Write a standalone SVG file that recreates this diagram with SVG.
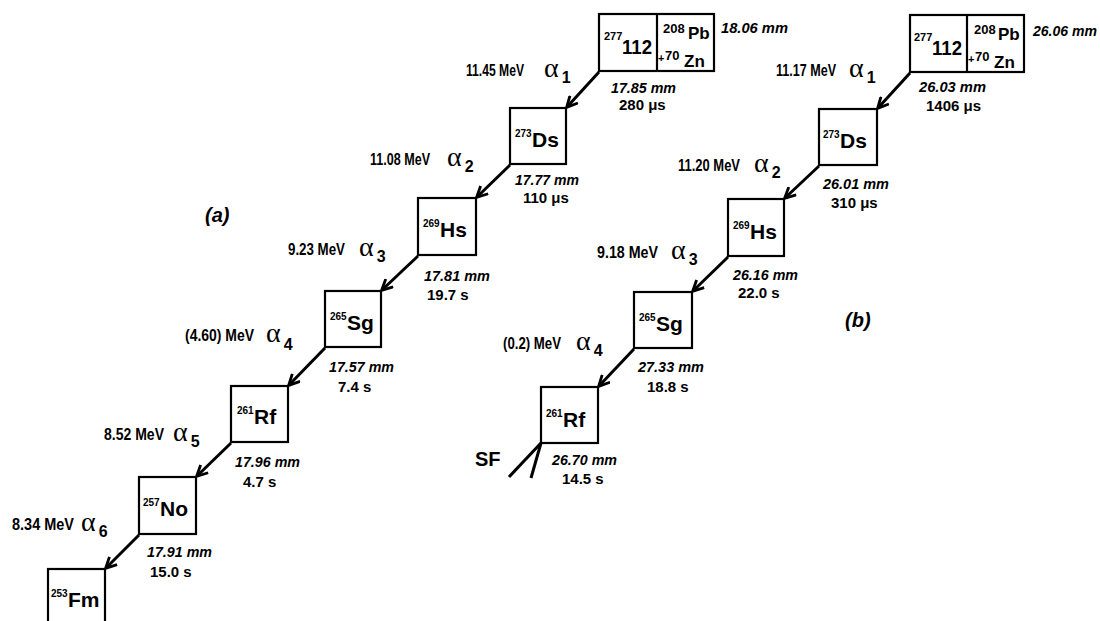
<svg xmlns="http://www.w3.org/2000/svg" width="1100" height="621" viewBox="0 0 1100 621">
<style>
.box{fill:#fff;stroke:#000;stroke-width:2.2}
.t{font-family:"Liberation Sans",Arial,sans-serif;font-weight:bold;fill:#000}
.e{font-size:17px}
.mm{font-size:15px;font-style:italic}
.tm{font-size:15px}
.al{font-family:"Liberation Serif","Times New Roman",serif;font-size:28px;fill:#000}
.sb{font-family:"Liberation Sans",Arial,sans-serif;font-weight:bold;font-size:16px}
.nu{font-size:21px}
.sp{font-size:10px}
.lab{font-size:20px;font-style:italic}
.arr{stroke:#000;stroke-width:3;fill:none;marker-end:url(#ah)}
.sf{stroke:#000;stroke-width:3;fill:none}
</style>
<defs>
<marker id="ah" viewBox="0 0 12 12" refX="10.5" refY="6" markerWidth="13" markerHeight="13" markerUnits="userSpaceOnUse" orient="auto">
<path d="M1,1 L11,6 L1,11" fill="none" stroke="#000" stroke-width="2.6"/>
</marker>
</defs>
<rect width="1100" height="621" fill="#fff"/>

<g id="connectors">
<line class="arr" x1="599" y1="72" x2="567" y2="107"/>
<line class="arr" x1="510" y1="165" x2="477" y2="197"/>
<line class="arr" x1="418" y1="256" x2="382" y2="290"/>
<line class="arr" x1="325" y1="348" x2="289" y2="385"/>
<line class="arr" x1="231" y1="443" x2="197" y2="476"/>
<line class="arr" x1="139" y1="535" x2="106" y2="568"/>
<line class="arr" x1="910" y1="73" x2="878" y2="108"/>
<line class="arr" x1="819" y1="166" x2="785" y2="198"/>
<line class="arr" x1="728" y1="257" x2="693" y2="291"/>
<line class="arr" x1="634" y1="349" x2="599" y2="386"/>
<line class="sf" x1="541" y1="443" x2="509" y2="477"/>
<line class="sf" x1="541" y1="443" x2="531" y2="478"/>
</g>

<!-- chain (a) -->
<g id="a-112">
<rect class="box" x="599" y="14" width="115" height="57"/>
<line x1="657" y1="14" x2="657" y2="71" stroke="#000" stroke-width="2.2"/>
<text class="t" x="604" y="40" font-size="11">277</text>
<text class="t nu" x="622" y="54" textLength="30" lengthAdjust="spacingAndGlyphs">112</text>
<text class="t" x="663" y="33" font-size="13">208</text>
<text class="t" x="688" y="39" font-size="17">Pb</text>
<text class="t" x="658" y="62" font-size="11">+</text>
<text class="t" x="665" y="60" font-size="13">70</text>
<text class="t" x="684" y="67" font-size="17">Zn</text>
</g>
<g id="a-Ds">
<rect class="box" x="510" y="108" width="56" height="56"/>
<text class="t sp" x="515" y="137">273</text>
<text class="t nu" x="532" y="147">Ds</text>
</g>
<g id="a-Hs">
<rect class="box" x="418" y="198" width="58" height="57"/>
<text class="t sp" x="423" y="227">269</text>
<text class="t nu" x="440" y="237">Hs</text>
</g>
<g id="a-Sg">
<rect class="box" x="325" y="291" width="56" height="56"/>
<text class="t sp" x="330" y="320">265</text>
<text class="t nu" x="347" y="330">Sg</text>
</g>
<g id="a-Rf">
<rect class="box" x="231" y="386" width="57" height="56"/>
<text class="t sp" x="237" y="414">261</text>
<text class="t nu" x="254" y="424">Rf</text>
</g>
<g id="a-No">
<rect class="box" x="139" y="477" width="57" height="57"/>
<text class="t sp" x="143" y="506">257</text>
<text class="t nu" x="160" y="516">No</text>
</g>
<g id="a-Fm">
<rect class="box" x="48" y="569" width="57" height="62"/>
<text class="t sp" x="51" y="597">253</text>
<text class="t nu" x="68" y="607">Fm</text>
</g>

<g id="a-labels">
<text class="t mm" x="721" y="33" textLength="67" lengthAdjust="spacingAndGlyphs">18.06 mm</text>
<text class="t e" x="466" y="76" textLength="58" lengthAdjust="spacingAndGlyphs">11.45 MeV</text>
<text class="al" x="544" y="77">α<tspan class="sb" dx="3" dy="6">1</tspan></text>
<text class="t mm" x="611" y="93" textLength="65" lengthAdjust="spacingAndGlyphs">17.85 mm</text>
<text class="t tm" x="619" y="110">280 μs</text>

<text class="t e" x="370" y="165" textLength="60" lengthAdjust="spacingAndGlyphs">11.08 MeV</text>
<text class="al" x="447" y="166">α<tspan class="sb" dx="3" dy="6">2</tspan></text>
<text class="t mm" x="515" y="185" textLength="64" lengthAdjust="spacingAndGlyphs">17.77 mm</text>
<text class="t tm" x="523" y="203">110 μs</text>

<text class="t lab" x="205" y="222">(a)</text>

<text class="t e" x="288" y="255" textLength="57" lengthAdjust="spacingAndGlyphs">9.23 MeV</text>
<text class="al" x="359" y="256">α<tspan class="sb" dx="3" dy="6">3</tspan></text>
<text class="t mm" x="424" y="281" textLength="66" lengthAdjust="spacingAndGlyphs">17.81 mm</text>
<text class="t tm" x="427" y="300">19.7 s</text>

<text class="t e" x="185" y="341" textLength="69" lengthAdjust="spacingAndGlyphs">(4.60) MeV</text>
<text class="al" x="266" y="342">α<tspan class="sb" dx="3" dy="8">4</tspan></text>
<text class="t mm" x="329" y="372" textLength="65" lengthAdjust="spacingAndGlyphs">17.57 mm</text>
<text class="t tm" x="338" y="392">7.4 s</text>

<text class="t e" x="104" y="440" textLength="60" lengthAdjust="spacingAndGlyphs">8.52 MeV</text>
<text class="al" x="173" y="441">α<tspan class="sb" dx="3" dy="6">5</tspan></text>
<text class="t mm" x="235" y="467" textLength="65" lengthAdjust="spacingAndGlyphs">17.96 mm</text>
<text class="t tm" x="243" y="487">4.7 s</text>

<text class="t e" x="12" y="530" textLength="62" lengthAdjust="spacingAndGlyphs">8.34 MeV</text>
<text class="al" x="81" y="531">α<tspan class="sb" dx="3" dy="6">6</tspan></text>
<text class="t mm" x="147" y="557" textLength="65" lengthAdjust="spacingAndGlyphs">17.91 mm</text>
<text class="t tm" x="150" y="577">15.0 s</text>
</g>

<!-- chain (b) -->
<g id="b-112">
<rect class="box" x="910" y="15" width="114" height="57"/>
<line x1="967" y1="15" x2="967" y2="72" stroke="#000" stroke-width="2.2"/>
<text class="t" x="914" y="41" font-size="11">277</text>
<text class="t nu" x="932" y="55" textLength="30" lengthAdjust="spacingAndGlyphs">112</text>
<text class="t" x="974" y="34" font-size="13">208</text>
<text class="t" x="998" y="40" font-size="17">Pb</text>
<text class="t" x="968" y="63" font-size="11">+</text>
<text class="t" x="975" y="61" font-size="13">70</text>
<text class="t" x="994" y="68" font-size="17">Zn</text>
</g>
<g id="b-Ds">
<rect class="box" x="819" y="109" width="58" height="56"/>
<text class="t sp" x="823" y="138">273</text>
<text class="t nu" x="840" y="148">Ds</text>
</g>
<g id="b-Hs">
<rect class="box" x="728" y="199" width="56" height="57"/>
<text class="t sp" x="733" y="229">269</text>
<text class="t nu" x="750" y="239">Hs</text>
</g>
<g id="b-Sg">
<rect class="box" x="634" y="292" width="58" height="56"/>
<text class="t sp" x="639" y="321">265</text>
<text class="t nu" x="656" y="331">Sg</text>
</g>
<g id="b-Rf">
<rect class="box" x="541" y="387" width="57" height="56"/>
<text class="t sp" x="546" y="417">261</text>
<text class="t nu" x="563" y="427">Rf</text>
</g>

<g id="b-labels">
<text class="t mm" x="1033" y="36" textLength="64" lengthAdjust="spacingAndGlyphs">26.06 mm</text>
<text class="t e" x="776" y="76" textLength="60" lengthAdjust="spacingAndGlyphs">11.17 MeV</text>
<text class="al" x="849" y="77">α<tspan class="sb" dx="3" dy="6">1</tspan></text>
<text class="t mm" x="919" y="92" textLength="67" lengthAdjust="spacingAndGlyphs">26.03 mm</text>
<text class="t tm" x="926" y="111">1406 μs</text>

<text class="t e" x="678" y="171" textLength="62" lengthAdjust="spacingAndGlyphs">11.20 MeV</text>
<text class="al" x="754" y="172">α<tspan class="sb" dx="3" dy="6">2</tspan></text>
<text class="t mm" x="823" y="189" textLength="66" lengthAdjust="spacingAndGlyphs">26.01 mm</text>
<text class="t tm" x="831" y="208">310 μs</text>

<text class="t e" x="597" y="258" textLength="61" lengthAdjust="spacingAndGlyphs">9.18 MeV</text>
<text class="al" x="671" y="259">α<tspan class="sb" dx="3" dy="6">3</tspan></text>
<text class="t mm" x="733" y="280" textLength="65" lengthAdjust="spacingAndGlyphs">26.16 mm</text>
<text class="t tm" x="738" y="298">22.0 s</text>

<text class="t lab" x="845" y="327">(b)</text>

<text class="t e" x="503" y="349" textLength="58" lengthAdjust="spacingAndGlyphs">(0.2) MeV</text>
<text class="al" x="576" y="350">α<tspan class="sb" dx="3" dy="6">4</tspan></text>
<text class="t mm" x="638" y="372" textLength="66" lengthAdjust="spacingAndGlyphs">27.33 mm</text>
<text class="t tm" x="647" y="392">18.8 s</text>

<text class="t" x="475" y="466" font-size="20">SF</text>
<text class="t mm" x="552" y="465" textLength="65" lengthAdjust="spacingAndGlyphs">26.70 mm</text>
<text class="t tm" x="562" y="484">14.5 s</text>
</g>
</svg>
